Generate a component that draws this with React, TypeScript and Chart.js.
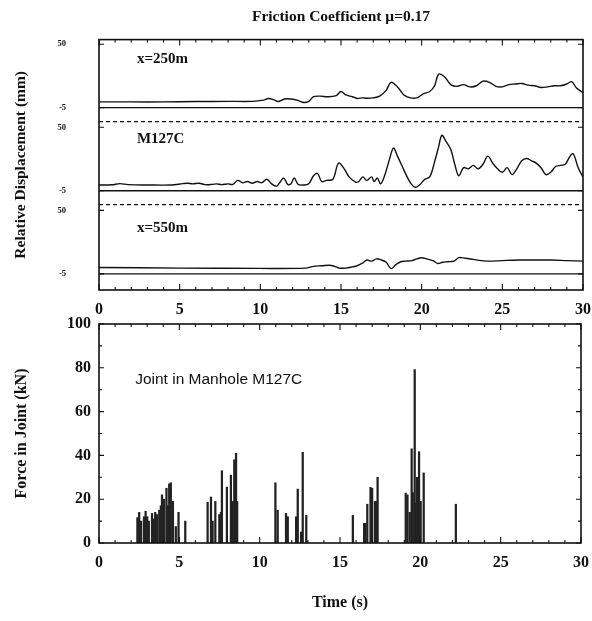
import React, { useEffect, useRef } from 'react';
import { Chart, registerables } from 'chart.js';

Chart.register(...registerables);

const SERIF = '"Liberation Serif", "DejaVu Serif", serif';
const SANS = '"Liberation Sans", "DejaVu Sans", sans-serif';
const INK = '#111111';

// ---------- texts ----------
const chartTitle = 'Friction Coefficient μ=0.17';
const panelNames = ['x=250m', 'M127C', 'x=550m'];
const dispTickValues = [50, -5];
const dispTickLabels = ['50', '-5'];
const dispAxisTitle = 'Relative Displacement (mm)';
const forceAxisTitle = 'Force in Joint (kN)';
const timeAxisTitle = 'Time (s)';
const forceNote = 'Joint in Manhole M127C';

// ---------- relative displacement, x = 250 m ----------
const t250 = [0, 2, 4, 6, 8, 9.5, 10.2, 10.5, 10.9, 11.1, 11.5, 11.9, 12.3, 12.7, 13.0, 13.3, 13.7, 14.2, 14.7, 15.0,
  15.3, 15.7, 16.0, 16.3, 16.6, 17.0, 17.4, 17.8, 18.1, 18.5, 18.9, 19.3, 19.7, 20.1, 20.5, 20.8, 21.05, 21.4, 21.8, 22.2,
  22.6, 23.0, 23.4, 23.8, 24.2, 24.6, 25.0, 25.4, 25.8, 26.2, 26.6, 27.0, 27.4, 27.8, 28.2, 28.6, 29.0, 29.3, 29.6, 30];
const d250 = [0, 0, 0, 0.3, 0.5, 0.5, 1.5, 3, 1.5, 0.3, 2.5, 2.5, 1.5, -0.5, 0.5, 4.5, 5, 4.5, 5.5, 9,
  6, 4.5, 3, 3.5, 3.2, 3.5, 5, 10, 17, 13, 6, 3.5, 3.5, 7, 9, 14, 24, 22, 15, 13.5,
  15, 13, 14, 18, 17, 13.5, 13, 15, 15.5, 16, 14.5, 14, 12.5, 13, 14, 14, 15.5, 17.5, 12, 8];

// ---------- relative displacement, manhole M127C ----------
const tM127C = [0, 0.8, 1.3, 1.8, 3, 4.5, 5.2, 5.5, 5.8, 6.2, 6.6, 7.0, 7.3, 7.6, 8.0, 8.3, 8.6, 8.9, 9.2, 9.5,
  9.8, 10.1, 10.4, 10.7, 11.0, 11.2, 11.45, 11.7, 11.9, 12.1, 12.35, 12.7, 13.0, 13.3, 13.55, 13.8, 14.1, 14.5, 14.85, 15.2,
  15.5, 15.9, 16.1, 16.35, 16.6, 16.9, 17.05, 17.25, 17.45, 17.7, 18.0, 18.25, 18.5, 18.8, 19.1, 19.35, 19.6, 19.9, 20.2, 20.5,
  20.8, 21.05, 21.25, 21.5, 21.8, 22.05, 22.3, 22.6, 22.9, 23.2, 23.5, 23.8, 24.1, 24.4, 24.7, 25.0, 25.3, 25.6, 25.9, 26.2,
  26.5, 26.8, 27.1, 27.4, 27.7, 28.0, 28.3, 28.6, 28.9, 29.2, 29.4, 29.7, 30];
const dM127C = [0, 0.2, 1.2, 0.3, 0, 0, 1.2, 1.5, 1, 1.5, 0.3, 0.5, 1, 0.3, 1, 0.5, 4, 2, 3, 1.5,
  3, 2, 5, 1, -1, 2, 6, 0.5, 1, 6, 0.5, 0, 1, 8, 10, 3, 4, 5, 19, 14,
  7, 2.5, 3, 7, 4, 7, 3, 6, 1, 8, 22, 32, 25, 16, 7, 1, -2, 0.5, 5, 7,
  20, 33, 43, 38, 31, 18, 8, 15, 14, 17, 14, 18, 25, 19, 14, 11, 15, 9, 14, 21,
  23, 21, 19, 15, 9, 11, 16, 17, 18, 25, 27, 15, 7];

// ---------- relative displacement, x = 550 m ----------
const t550 = [0, 5, 10, 12.8, 13.3, 13.8, 14.3, 14.6, 14.9, 15.3, 15.7, 16.0, 16.3, 16.6, 16.9, 17.2, 17.5, 17.8, 18.1, 18.4,
  18.7, 19.0, 19.4, 19.7, 20.0, 20.3, 20.7, 21.0, 21.3, 21.6, 22.0, 22.3, 22.7, 23.2, 23.7, 24.2, 25, 26, 27, 28, 29, 30];
const d550 = [0.5, 0, -0.3, 0, 1.5, 2, 2.5, 1.5, 0, 0, 1, 2, 4, 7, 6, 8, 7, 5, -0.5, 3,
  5.5, 6, 6.5, 8, 9, 8, 6.5, 4, 5, 5.5, 6, 9, 8.5, 7.5, 6.5, 6, 6.5, 7, 7, 7, 6.5, 6];

// ---------- force in joint ----------
const forceTimes = [2.39, 2.5, 2.62, 2.8, 2.9, 3.0, 3.1, 3.3, 3.4, 3.5, 3.6, 3.75, 3.85, 3.92, 4.05, 4.2, 4.3, 4.37, 4.47, 4.6,
  4.78, 4.95, 5.37, 6.76, 6.97, 7.07, 7.24, 7.49, 7.59, 7.65, 7.96, 8.21, 8.32, 8.42, 8.53, 8.6, 10.98, 11.12, 11.64, 11.75,
  12.27, 12.37, 12.58, 12.68, 12.9, 15.8, 16.5, 16.58, 16.7, 16.9, 17.0, 17.18, 17.26, 17.34, 19.09, 19.2, 19.34, 19.46, 19.53, 19.65,
  19.71, 19.8, 19.92, 20.02, 20.21, 22.21];
const forceValues = [11.6, 14, 10, 12, 14.5, 12, 10, 13.5, 11, 14, 13, 15, 17, 22, 20, 25, 17, 27, 27.5, 19,
  7.5, 14, 10, 18.6, 21, 10, 19, 13, 14, 33, 25.5, 31, 19, 38, 41, 19, 27.5, 15, 13.5, 12,
  12, 24.6, 5, 41.4, 12.6, 12.6, 9, 9, 17.7, 25.4, 25, 19, 19, 30, 22.8, 22, 14, 43, 23, 79.2,
  18, 30, 41.7, 19, 32, 17.7];

// layout constant: vertical offset (in mm) between stacked displacement panels
const PANEL_SHIFT = 72;

const serif = (size: number, weight: any = 'bold') => ({ family: SERIF, size, weight });

const fixSize = (prop: 'width' | 'height', size: number) => (s: any) => {
  s[prop] = size;
  s.paddingLeft = 0;
  s.paddingRight = 0;
  s.paddingTop = 0;
  s.paddingBottom = 0;
};

// draws the closed frame, inward ticks, reference lines and text notes
const framePlugin = {
  id: 'frame',
  afterDatasetsDraw(chart: any, _args: any, opts: any) {
    const { ctx, chartArea } = chart;
    const { left, right, top, bottom } = chartArea;
    const xs = chart.scales.x;
    const ys = chart.scales.y;
    ctx.save();
    (opts.hlines || []).forEach((l: any) => {
      const py = ys.getPixelForValue(l.value);
      ctx.beginPath();
      ctx.setLineDash(l.dash || []);
      ctx.lineWidth = l.width || 1.3;
      ctx.strokeStyle = INK;
      ctx.moveTo(left, py);
      ctx.lineTo(right, py);
      ctx.stroke();
    });
    ctx.setLineDash([]);
    ctx.lineWidth = 1.6;
    ctx.strokeStyle = INK;
    ctx.strokeRect(left, top, right - left, bottom - top);
    ctx.lineWidth = 1.1;
    ctx.beginPath();
    for (let t = xs.min; t <= xs.max + 1e-6; t += 1) {
      const px = xs.getPixelForValue(t);
      const len = Math.round(t) % 5 === 0 ? 6 : 3;
      ctx.moveTo(px, bottom);
      ctx.lineTo(px, bottom - len);
      ctx.moveTo(px, top);
      ctx.lineTo(px, top + len);
    }
    (opts.yTicks || []).forEach((v: number, i: number) => {
      const py = ys.getPixelForValue(v);
      const len = opts.yMajorEvery && i % opts.yMajorEvery !== 0 ? 3 : 5;
      ctx.moveTo(left, py);
      ctx.lineTo(left + len, py);
      ctx.moveTo(right, py);
      ctx.lineTo(right - len, py);
    });
    ctx.stroke();
    (opts.texts || []).forEach((tx: any) => {
      ctx.font = tx.font;
      ctx.fillStyle = INK;
      ctx.textAlign = 'left';
      ctx.textBaseline = 'middle';
      ctx.fillText(tx.text, xs.getPixelForValue(tx.x), ys.getPixelForValue(tx.y));
    });
    ctx.restore();
  },
};

export default function App() {
  const topRef = useRef<HTMLCanvasElement>(null);
  const botRef = useRef<HTMLCanvasElement>(null);

  useEffect(() => {
    const series = [
      [t250, d250],
      [tM127C, dM127C],
      [t550, d550],
    ];
    const dispTicks: number[] = [];
    series.forEach((_s, k) => dispTickValues.forEach((v) => dispTicks.push(v - k * PANEL_SHIFT)));
    const labelLocalY = [37, 40, 35];

    const top = new Chart(topRef.current as HTMLCanvasElement, {
      type: 'line',
      data: {
        datasets: series.map(([ts, vs], k) => ({
          label: panelNames[k],
          data: ts.map((t, i) => ({ x: t, y: vs[i] - k * PANEL_SHIFT })),
          borderColor: INK,
          borderWidth: 1.4,
          pointRadius: 0,
          tension: 0.35,
          fill: false,
        })),
      },
      options: {
        animation: false,
        responsive: false,
        maintainAspectRatio: false,
        layout: { padding: { top: 0, right: 9, left: 0, bottom: 0 } },
        plugins: {
          legend: { display: false },
          tooltip: { enabled: false },
          title: {
            display: true,
            text: chartTitle,
            fullSize: false,
            color: INK,
            font: serif(15.5),
            padding: { top: 8, bottom: 13 },
          },
          frame: {
            yTicks: dispTicks,
            hlines: [
              ...series.map((_s, k) => ({ value: -5 - k * PANEL_SHIFT })),
              { value: 55 - PANEL_SHIFT, dash: [4, 3] },
              { value: 55 - 2 * PANEL_SHIFT, dash: [4, 3] },
            ],
            texts: panelNames.map((n, k) => ({
              text: n,
              x: 2.35,
              y: labelLocalY[k] - k * PANEL_SHIFT,
              font: `bold 15px ${SERIF}`,
            })),
          },
        } as any,
        scales: {
          x: {
            type: 'linear',
            min: 0,
            max: 30,
            afterFit: fixSize('height', 30),
            grid: { display: false, drawTicks: false },
            border: { display: false },
            ticks: { stepSize: 5, padding: 10, color: INK, font: serif(16), maxRotation: 0 },
          },
          y: {
            type: 'linear',
            min: -163,
            max: 54,
            afterFit: fixSize('width', 99),
            afterBuildTicks: (s: any) => { s.ticks = dispTicks.map((v) => ({ value: v })); },
            grid: { display: false, drawTicks: false },
            border: { display: false },
            ticks: {
              autoSkip: false,
              padding: 33,
              color: INK,
              font: serif(8.5),
              callback: (_v: any, i: number) => dispTickLabels[i % dispTickLabels.length],
            },
            title: { display: true, text: dispAxisTitle, color: INK, font: serif(15.5), padding: { top: 12 } },
          },
        },
      },
      plugins: [framePlugin],
    } as any);

    const forceTicks: number[] = [];
    for (let v = 0; v <= 100; v += 10) forceTicks.push(v);

    const bottom = new Chart(botRef.current as HTMLCanvasElement, {
      type: 'bar',
      data: {
        datasets: [{
          label: forceNote,
          data: forceTimes.map((t, i) => ({ x: t, y: forceValues[i] })),
          backgroundColor: '#222222',
          borderWidth: 0,
          barThickness: 1.6,
        }],
      },
      options: {
        animation: false,
        responsive: false,
        maintainAspectRatio: false,
        layout: { padding: { top: 9, right: 11, left: 0, bottom: 0 } },
        plugins: {
          legend: { display: false },
          tooltip: { enabled: false },
          frame: {
            yTicks: forceTicks,
            yMajorEvery: 2,
            texts: [{ text: forceNote, x: 2.25, y: 74.5, font: `15.5px ${SANS}` }],
          },
        } as any,
        scales: {
          x: {
            type: 'linear',
            offset: false,
            min: 0,
            max: 30,
            afterFit: fixSize('height', 78),
            grid: { display: false, drawTicks: false, offset: false },
            border: { display: false },
            ticks: { stepSize: 5, padding: 10, color: INK, font: serif(16), maxRotation: 0 },
            title: { display: true, text: timeAxisTitle, color: INK, font: serif(16), padding: { top: 0, bottom: 9 } },
          },
          y: {
            type: 'linear',
            min: 0,
            max: 100,
            afterFit: fixSize('width', 99),
            grid: { display: false, drawTicks: false },
            border: { display: false },
            ticks: { stepSize: 20, padding: 8, color: INK, font: serif(16) },
            title: { display: true, text: forceAxisTitle, color: INK, font: serif(16), padding: { top: 12 } },
          },
        },
      },
      plugins: [framePlugin],
    } as any);

    return () => {
      top.destroy();
      bottom.destroy();
    };
  }, []);

  return (
    <div style={{ position: 'absolute', left: 0, top: 0, width: 592, height: 621, background: '#fff' }}>
      <canvas ref={topRef} width={592} height={320} style={{ position: 'absolute', left: 0, top: 0, display: 'block' }} />
      <canvas ref={botRef} width={592} height={306} style={{ position: 'absolute', left: 0, top: 315, display: 'block' }} />
    </div>
  );
}
